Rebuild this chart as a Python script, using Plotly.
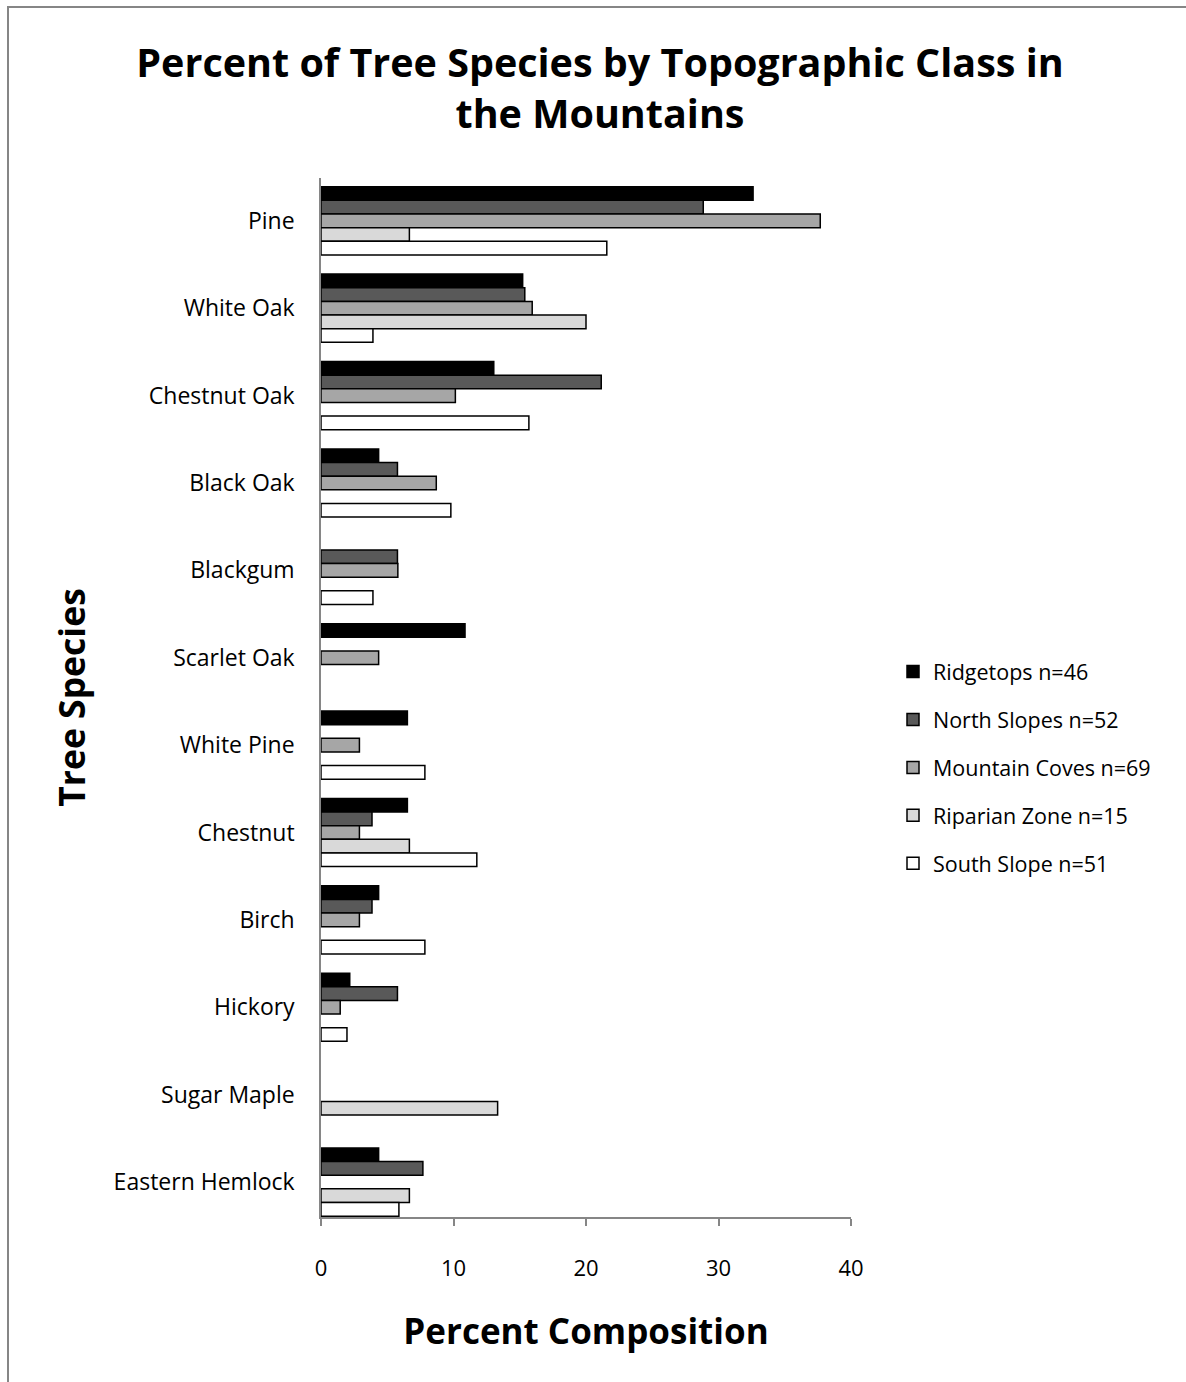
import plotly.graph_objects as go

# Tree species (top to bottom on the chart)
species = [
    "Pine", "White Oak", "Chestnut Oak", "Black Oak", "Blackgum", "Scarlet Oak",
    "White Pine", "Chestnut", "Birch", "Hickory", "Sugar Maple", "Eastern Hemlock",
]

# Percent composition for each topographic class (None = species absent)
ridgetops = [32.61, 15.22, 13.04, 4.35, None, 10.87, 6.52, 6.52, 4.35, 2.17, None, 4.35]
north_slopes = [28.85, 15.38, 21.15, 5.77, 5.77, None, None, 3.85, 3.85, 5.77, None, 7.69]
mountain_coves = [37.68, 15.94, 10.14, 8.70, 5.80, 4.35, 2.90, 2.90, 2.90, 1.45, None, None]
riparian_zone = [6.67, 20.00, None, None, None, None, None, 6.67, None, None, 13.33, 6.67]
south_slope = [21.57, 3.92, 15.69, 9.80, 3.92, None, 7.84, 11.76, 7.84, 1.96, None, 5.88]

series_names = [
    "Ridgetops n=46", "North Slopes n=52", "Mountain Coves n=69",
    "Riparian Zone n=15", "South Slope n=51",
]
series_values = [ridgetops, north_slopes, mountain_coves, riparian_zone, south_slope]
fills = ["#000000", "#595959", "#a6a6a6", "#d9d9d9", "#ffffff"]

x_ticks = [0, 10, 20, 30, 40]

FONT = "Open Sans"
AXIS_GREY = "#868686"

W, H = 1186, 1382
L, R, T, B = 321, 851, 178, 1217  # plot area edges in pixels

fig = go.Figure()
for i, (name, vals, col) in enumerate(zip(series_names, series_values, fills)):
    fig.add_trace(go.Bar(
        y=species, x=vals, name=name, orientation="h",
        marker=dict(color=col, line=dict(color="#000000", width=1.5)),
        legendgroup=f"g{i}",
    ))

pw, ph = R - L, B - T


def px_x(p):
    return (p - L) / pw


def px_y(p):
    return (B - p) / ph


fig.update_layout(
    width=W, height=H,
    margin=dict(l=L, r=W - R, t=T, b=H - B, autoexpand=False),
    paper_bgcolor="white", plot_bgcolor="white",
    barmode="group", bargap=0.22, bargroupgap=0,
    font=dict(family=FONT, color="#000000"),
    title=dict(
        text="<b>Percent of Tree Species by Topographic Class in<br>the Mountains</b>",
        font=dict(family=FONT, size=39.5, color="#000000"),
        x=600 / W, xanchor="center", xref="container",
        y=1 - 77 / H, yanchor="top", yref="container",
    ),
    xaxis=dict(
        range=[0, 40], tickvals=x_ticks, ticktext=[str(v) for v in x_ticks],
        showgrid=False, zeroline=False,
        showline=True, linecolor=AXIS_GREY, linewidth=1.5,
        ticks="outside", ticklen=7, tickcolor=AXIS_GREY, tickwidth=1.5,
        tickfont=dict(family=FONT, size=22),
        ticklabelstandoff=24,
        title=dict(text="<b>Percent Composition</b>", font=dict(family=FONT, size=35), standoff=38),
        fixedrange=True,
    ),
    yaxis=dict(
        type="category", categoryorder="array", categoryarray=species,
        range=[11.40, -0.49],
        showgrid=False, zeroline=False,
        showline=True, linecolor=AXIS_GREY, linewidth=1.5,
        ticks="", tickfont=dict(family=FONT, size=23),
        ticklabelstandoff=20,
        title=dict(text="<b>Tree Species</b>", font=dict(family=FONT, size=35.5), standoff=17),
        fixedrange=True,
    ),
    legend=dict(
        x=px_x(893), xanchor="left", y=px_y(651), yanchor="top",
        traceorder="grouped", tracegroupgap=17,
        font=dict(family=FONT, size=21.5),
        itemwidth=30, bgcolor="rgba(0,0,0,0)",
    ),
    shapes=[dict(
        type="rect", xref="paper", yref="paper",
        x0=px_x(8), x1=px_x(W + 20), y0=px_y(H + 20), y1=px_y(7),
        line=dict(color=AXIS_GREY, width=2), fillcolor="rgba(0,0,0,0)", layer="below",
    )],
)

fig.write_html("out.html")
